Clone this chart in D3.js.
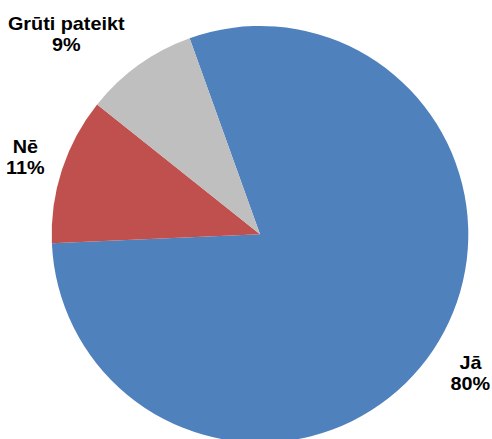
<!DOCTYPE html>
<html>
<head>
<meta charset="utf-8">
<script src="https://cdn.jsdelivr.net/npm/d3@7"></script>
<style>
  html, body { margin: 0; padding: 0; background: #ffffff; }
  svg { display: block; }
</style>
</head>
<body>
<svg id="chart" width="492" height="439"></svg>
<script>
// ---- data ----
const categories = ["Jā", "Nē", "Grūti pateikt"];
const values = [79.8, 11.4, 8.8];
const valueLabels = ["80%", "11%", "9%"];

// ---- styles / layout ----
const sliceColors = ["#4F81BD", "#C0504D", "#BFBFBF"];
const cx = 260, cy = 234.3, radius = 208.3;
const startDeg = -19.75;
// label placement: radial distance of the label block centre and angular tweak
const labelLayout = [
  { dist: 252, dAng: -0.5 },
  { dist: 247, dAng: 0.1 },
  { dist: 279, dAng: -8.4 }
];

const svg = d3.select("#chart");
const g = svg.append("g").attr("transform", `translate(${cx},${cy})`);

const color = d3.scaleOrdinal().domain(categories).range(sliceColors);

const startRad = startDeg * Math.PI / 180;
const pie = d3.pie().sort(null).value(d => d.value)
  .startAngle(startRad).endAngle(startRad + 2 * Math.PI);

const data = categories.map((c, i) => ({ cat: c, value: values[i], label: valueLabels[i], i }));
const arcs = pie(data);

const arc = d3.arc().innerRadius(0).outerRadius(radius);

g.selectAll("path.slice")
  .data(arcs)
  .join("path")
  .attr("class", "slice")
  .attr("d", arc)
  .attr("fill", d => color(d.data.cat));

const labels = g.selectAll("g.label")
  .data(arcs)
  .join("g")
  .attr("class", "label")
  .attr("transform", d => {
    const L = labelLayout[d.data.i];
    const a = (d.startAngle + d.endAngle) / 2 + L.dAng * Math.PI / 180;
    const x = Math.sin(a) * L.dist;
    const y = -Math.cos(a) * L.dist;
    return `translate(${x},${y}) scale(1.1,1)`;
  });

const t = labels.append("text")
  .attr("text-anchor", "middle")
  .attr("font-family", "'Liberation Sans', Arial, sans-serif")
  .attr("font-weight", "bold")
  .attr("font-size", 18)
  .attr("fill", "#000000");

t.append("tspan").attr("x", 0).attr("y", -4.05).text(d => d.data.cat);
t.append("tspan").attr("x", 0).attr("y", 16.95).text(d => d.data.label);
</script>
</body>
</html>
